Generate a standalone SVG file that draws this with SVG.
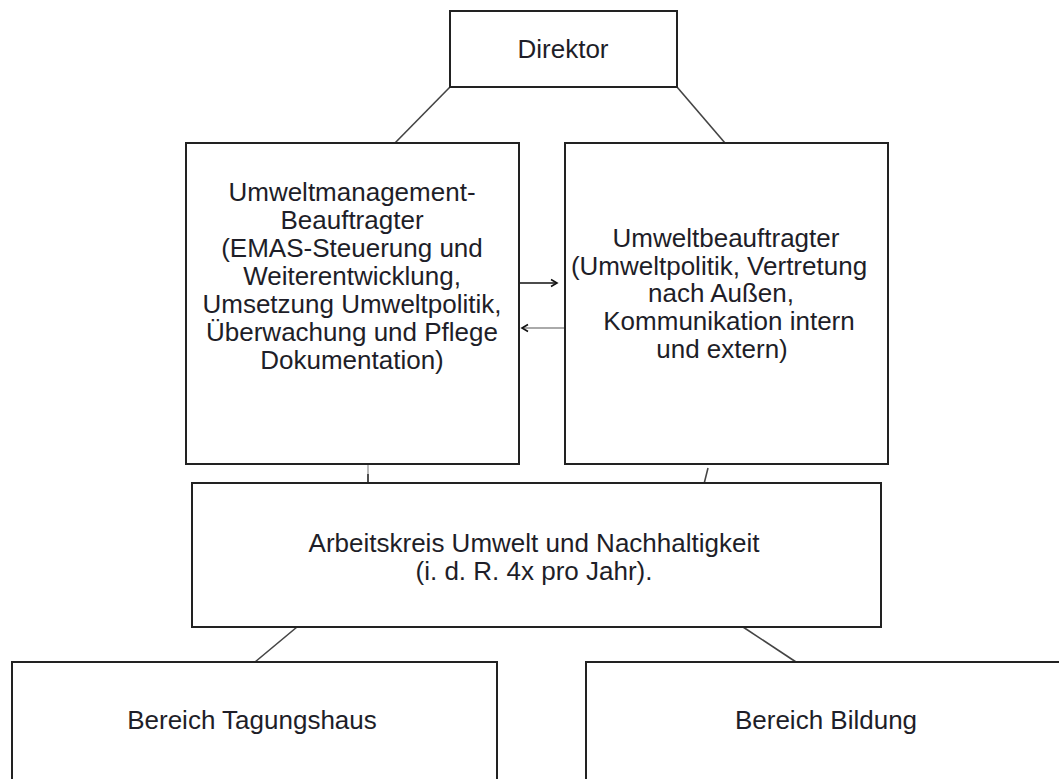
<svg xmlns="http://www.w3.org/2000/svg" width="1059" height="779" viewBox="0 0 1059 779">
<style>
.box{fill:#fff;stroke:#222;stroke-width:2}
.t{font-family:"Liberation Sans",Arial,sans-serif;font-size:26px;fill:#1e1e28;text-anchor:middle}
.c{stroke:#444;stroke-width:1.6;fill:none}
</style>
<defs>
<marker id="ah" markerUnits="userSpaceOnUse" markerWidth="10" markerHeight="10" refX="8" refY="5" orient="auto">
<path d="M2,1.5 L8,5 L2,8.5" fill="none" stroke="#111" stroke-width="1.6"/>
</marker>
</defs>
<rect width="1059" height="779" fill="#fff"/>
<g id="connectors">
<line class="c" x1="450" y1="87" x2="393" y2="145"/>
<line class="c" x1="677" y1="87" x2="725" y2="143"/>
<line x1="519" y1="283" x2="557" y2="283" stroke="#111" stroke-width="1.6" marker-end="url(#ah)"/>
<line x1="565" y1="328" x2="522" y2="328" stroke="#aaa" stroke-width="2" marker-end="url(#ah)"/>
<line x1="368" y1="463" x2="368" y2="474" stroke="#bbb" stroke-width="2"/>
<line x1="368" y1="474" x2="368" y2="487" stroke="#222" stroke-width="1.6"/>
<line x1="708" y1="468" x2="704" y2="484" stroke="#444" stroke-width="1.6"/>
<line class="c" x1="297" y1="627" x2="255" y2="662"/>
<line class="c" x1="743" y1="627" x2="796" y2="662"/>
</g>
<g id="direktor">
<rect class="box" x="450" y="11" width="227" height="76"/>
<text class="t" x="563" y="58">Direktor</text>
</g>
<g id="umb">
<rect class="box" x="186" y="143" width="333" height="321"/>
<text class="t" x="352" y="201">Umweltmanagement-</text>
<text class="t" x="352" y="229">Beauftragter</text>
<text class="t" x="352" y="257">(EMAS-Steuerung und</text>
<text class="t" x="352" y="285">Weiterentwicklung,</text>
<text class="t" x="352" y="313">Umsetzung Umweltpolitik,</text>
<text class="t" x="352" y="341">Überwachung und Pflege</text>
<text class="t" x="352" y="369">Dokumentation)</text>
</g>
<g id="ub">
<rect class="box" x="565" y="143" width="323" height="321"/>
<text class="t" x="726" y="247">Umweltbeauftragter</text>
<text class="t" x="719" y="275">(Umweltpolitik, Vertretung</text>
<text class="t" x="721" y="302">nach Außen,</text>
<text class="t" x="729" y="330">Kommunikation intern</text>
<text class="t" x="722" y="358">und extern)</text>
</g>
<g id="arbeitskreis">
<rect class="box" x="192" y="483" width="689" height="144"/>
<text class="t" x="534" y="552">Arbeitskreis Umwelt und Nachhaltigkeit</text>
<text class="t" x="534" y="580">(i. d. R. 4x pro Jahr).</text>
</g>
<g id="tagungshaus">
<rect class="box" x="12" y="662" width="485" height="140"/>
<text class="t" x="252" y="729">Bereich Tagungshaus</text>
</g>
<g id="bildung">
<rect class="box" x="586" y="662" width="490" height="140"/>
<text class="t" x="826" y="729">Bereich Bildung</text>
</g>
</svg>
